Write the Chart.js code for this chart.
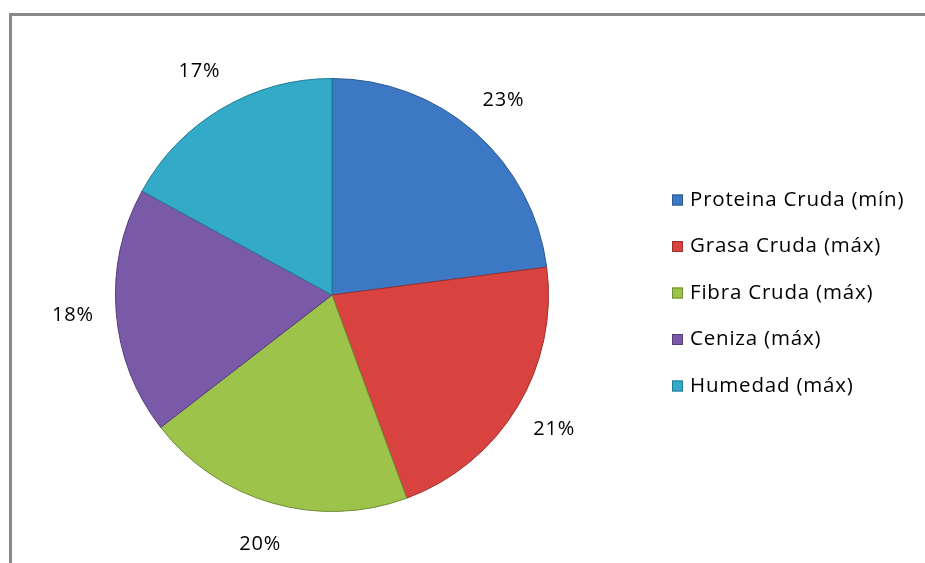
<!DOCTYPE html>
<html>
<head>
<meta charset="utf-8">
<script src="https://cdn.jsdelivr.net/npm/chart.js@4"></script>
<style>
  body { margin: 0; background: #fff; }
  #wrap { position: relative; width: 925px; height: 563px; overflow: hidden; }
  #frame { position: absolute; left: 9px; top: 13px; width: 1000px; height: 700px;
           border-top: 3px solid #888; border-left: 3px solid #888; }
  #pie { position: absolute; left: 0; top: 0; }
</style>
</head>
<body>
<div id="wrap">
  <div id="frame"></div>
  <canvas id="pie"></canvas>
</div>
<script>
const labels = ['Proteina Cruda (mín)', 'Grasa Cruda (máx)', 'Fibra Cruda (máx)', 'Ceniza (máx)', 'Humedad (máx)'];
const values = [22.9, 21.4, 20.1, 18.4, 17.0];
const colors = ['#3c78c3', '#d8433f', '#9dc34b', '#7a5aa8', '#32aac8'];
const edges = ['#2b5a96', '#9e2e2b', '#6f8c33', '#553d7a', '#217b91'];

const fontName = "'Open Sans', 'Liberation Sans', sans-serif";

// percent labels outside the slices
const outLabels = {
  id: 'outLabels',
  afterDatasetsDraw(chart) {
    const ctx = chart.ctx;
    const meta = chart.getDatasetMeta(0);
    const total = values.reduce((a, b) => a + b, 0);
    ctx.save();
    ctx.font = '20px ' + fontName;
    ctx.letterSpacing = '0.8px';
    ctx.fillStyle = '#000';
    ctx.textAlign = 'center';
    ctx.textBaseline = 'middle';
    meta.data.forEach((arc, i) => {
      const mid = (arc.startAngle + arc.endAngle) / 2;
      const r = arc.outerRadius * 1.2;
      const x = arc.x + Math.cos(mid) * r;
      const y = arc.y + Math.sin(mid) * r;
      ctx.fillText(Math.round(values[i] / total * 100) + '%', x, y);
    });
    ctx.restore();
  }
};

// legend drawn on the right
const sideLegend = {
  id: 'sideLegend',
  afterDraw(chart) {
    const ctx = chart.ctx;
    ctx.save();
    ctx.font = '20.5px ' + fontName;
    ctx.letterSpacing = '0.8px';
    ctx.textBaseline = 'middle';
    labels.forEach((lab, i) => {
      const y = 200 + i * 46.5;
      ctx.fillStyle = colors[i];
      ctx.fillRect(672, y - 5.5, 11, 11);
      ctx.strokeStyle = edges[i];
      ctx.lineWidth = 1;
      ctx.strokeRect(672.5, y - 5, 10, 10);
      ctx.fillStyle = '#000';
      ctx.fillText(lab, 690, y);
    });
    ctx.restore();
  }
};

const ePie = document.querySelector('#pie');
ePie.width = 925;
ePie.height = 563;

new Chart(ePie, {
  type: 'pie',
  data: {
    labels: labels,
    datasets: [{
      data: values,
      backgroundColor: colors,
      borderColor: edges,
      borderWidth: 1
    }]
  },
  options: {
    responsive: false,
    animation: false,
    layout: { padding: { left: 115, right: 376, top: 78, bottom: 51 } },
    plugins: {
      legend: { display: false },
      tooltip: { enabled: false }
    }
  },
  plugins: [outLabels, sideLegend]
});
</script>
</body>
</html>
